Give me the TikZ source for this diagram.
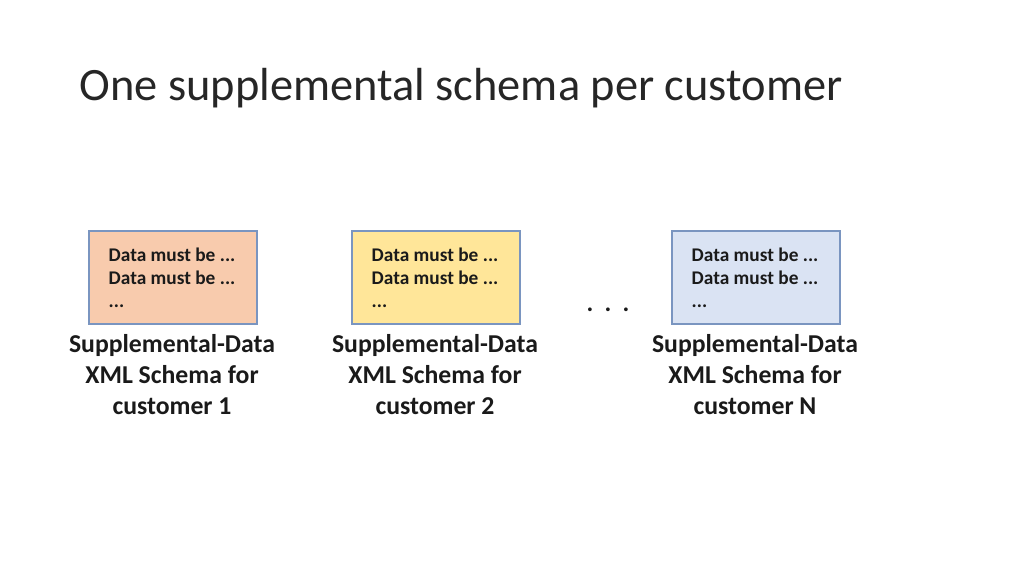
\documentclass[tikz,border=0pt]{standalone}
\usepackage{fontspec}
\setmainfont{Carlito}
\definecolor{peach}{HTML}{F8CBAD}
\definecolor{butter}{HTML}{FFE699}
\definecolor{paleblue}{HTML}{DAE3F3}
\definecolor{edgeblue}{HTML}{7A95C0}
\definecolor{ink}{HTML}{1A1A1A}
\definecolor{titleink}{HTML}{262626}
\tikzset{
  schemabox/.style={draw=edgeblue, line width=0.9pt, minimum width=126pt, minimum height=69.75pt, inner sep=0pt},
  rules/.style={font=\fontsize{14.5}{17.25}\selectfont\bfseries, align=left, text=ink, anchor=west},
  caption/.style={font=\fontsize{19.3}{23.25}\selectfont\bfseries, align=center, text=ink},
}
\begin{document}
\begin{tikzpicture}[x=0.75pt,y=-0.75pt]
\useasboundingbox (0,0) rectangle (1024,576);
\node[anchor=west, font=\fontsize{34.8}{40}\selectfont, text=titleink] (title) at (75,88) {One supplemental schema per customer};

\node[schemabox, fill=peach] (b1) at (173,277.5) {};
\node[schemabox, fill=butter] (b2) at (436,277.5) {};
\node[schemabox, fill=paleblue] (b3) at (756,277.5) {};

\node[rules] (t1) at (104,278) {Data must be ...\\Data must be ...\\...};
\node[rules] (t2) at (367,278) {Data must be ...\\Data must be ...\\...};
\node[rules] (t3) at (687,278) {Data must be ...\\Data must be ...\\...};

\node[font=\fontsize{19}{23}\selectfont\bfseries, text=ink] (dots) at (608,310) {.\hspace{8.5pt}.\hspace{8.5pt}.};

\node[caption] (c1) at (172,375) {Supplemental-Data\\XML Schema for\\customer 1};
\node[caption] (c2) at (435,375) {Supplemental-Data\\XML Schema for\\customer 2};
\node[caption] (c3) at (755,375) {Supplemental-Data\\XML Schema for\\customer N};
\end{tikzpicture}
\end{document}
